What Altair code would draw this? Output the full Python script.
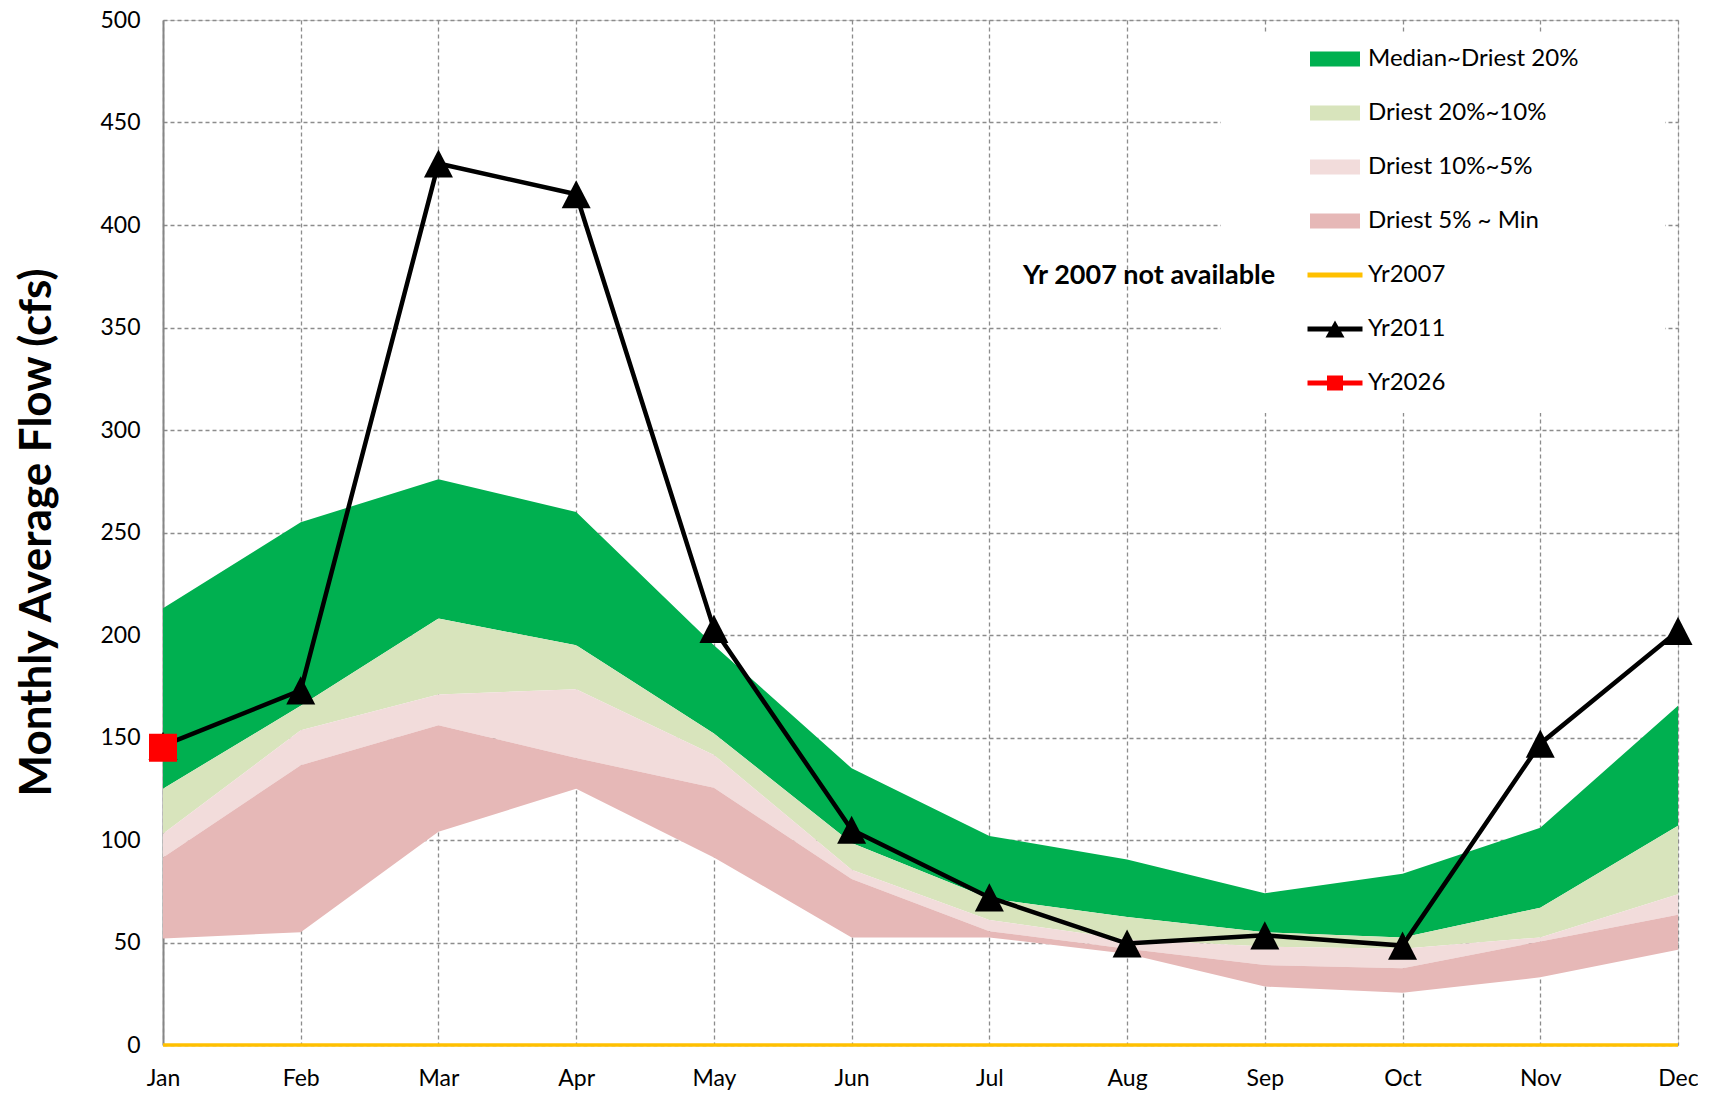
import altair as alt
import pandas as pd

# ---------------- data ----------------
months = ["Jan", "Feb", "Mar", "Apr", "May", "Jun", "Jul", "Aug", "Sep", "Oct", "Nov", "Dec"]

median_flow = [213, 255, 276, 260, 195, 135, 102, 90.5, 74, 83.5, 106, 165.5]
driest20 = [125, 165.5, 208, 195, 152, 98.5, 71.5, 62.5, 55, 52.5, 67, 107]
driest10 = [103, 153.5, 171, 173.5, 141.5, 85.5, 61, 51.5, 48, 47, 52.5, 73.5]
driest5 = [91.5, 136.5, 156, 140, 125.5, 81, 55.5, 47, 39, 37.5, 50.5, 63.5]
min_flow = [52, 55, 104, 125, 91.5, 52.5, 52.5, 44.5, 28.5, 25.5, 33, 46.5]

yr2007 = [0, 0, 0, 0, 0, 0, 0, 0, 0, 0, 0, 0]
yr2011 = [146, 173, 430, 415, 203, 105, 72, 49.5, 53.5, 48.5, 147, 202]
yr2026_months = ["Jan"]
yr2026 = [145]

band_names = ["Median~Driest 20%", "Driest 20%~10%", "Driest 10%~5%", "Driest 5% ~ Min"]
band_colors = ["#00b050", "#d8e4bc", "#f2dcdb", "#e6b8b7"]
line_names = ["Yr2007", "Yr2011", "Yr2026"]
line_colors = ["#ffc000", "#000000", "#ff0000"]
series_names = band_names + line_names
series_colors = band_colors + line_colors
note_text = "Yr 2007 not available"
y_title = "Monthly Average Flow (cfs)"

# ---------------- tables ----------------
bounds = [median_flow, driest20, driest10, driest5, min_flow]
band_rows = []
for i, name in enumerate(band_names):
    for m, hi, lo in zip(months, bounds[i], bounds[i + 1]):
        band_rows.append({"month": m, "series": name, "hi": hi, "lo": lo})
bands = pd.DataFrame(band_rows)

line_rows = []
for m, v in zip(months, yr2007):
    line_rows.append({"month": m, "series": "Yr2007", "value": v})
for m, v in zip(months, yr2011):
    line_rows.append({"month": m, "series": "Yr2011", "value": v})
for m, v in zip(yr2026_months, yr2026):
    line_rows.append({"month": m, "series": "Yr2026", "value": v})
lines = pd.DataFrame(line_rows)

legend_df = pd.DataFrame({"series": series_names, "note": [note_text] * len(series_names)})

# ---------------- styling ----------------
FONT = "Lato"
EXT = " M13.1,0L13.1,0.01"  # stretches the white legend box to the right
EXT_LAST = " M13.1,1.1L13.1,1.11"  # and a little further down under the last entry
LINE = "M-1.1,-0.1H1.1V0.1H-1.1Z"
RECT = "M-1,-0.3H1V0.3H-1Z"
legend_paths = [
    RECT + EXT,
    RECT + EXT,
    RECT + EXT,
    RECT + EXT,
    LINE + EXT,
    LINE + " M-0.38,0.34L0,-0.34L0.38,0.34Z" + EXT,
    LINE + " M-0.32,-0.3H0.32V0.3H-0.32Z" + EXT + EXT_LAST,
]

x_enc = alt.X(
    "month:N",
    sort=months,
    scale=alt.Scale(domain=months, padding=0),
    axis=alt.Axis(
        title=None, domain=False, ticks=False, labelAngle=0, labelPadding=22,
        labelFont=FONT, labelFontSize=23, labelColor="black",
        grid=True, gridDash=[4, 3], gridColor="#8c8c8c", gridWidth=1.3,
    ),
)
y_scale = alt.Scale(domain=[0, 500], nice=False)
y_axis = alt.Axis(
    title=y_title, tickCount=10, ticks=False, tickSize=0, labelPadding=23,
    labelFont=FONT, labelFontSize=23, labelColor="black",
    domain=True, domainColor="#868686", domainWidth=2,
    grid=True, gridDash=[4, 3], gridColor="#8c8c8c", gridWidth=1.3,
    titleFont=FONT, titleFontSize=44, titleFontWeight="bold", titleColor="black",
    titleX=-126, titleY=512, titleBaseline="middle", titleAngle=270,
)

legend_main = alt.Legend(
    title=None, orient="none", legendX=1058, legendY=12,
    fillColor="white", padding=2,
    symbolSize=2500, symbolStrokeWidth=0, symbolOffset=87,
    labelOffset=8, labelFont=FONT, labelFontSize=24, labelColor="black",
    labelLimit=400, rowPadding=17,
)
legend_note = alt.Legend(
    title=None, orient="none", legendX=833, legendY=242, padding=0,
    symbolSize=0, symbolStrokeWidth=0, symbolOpacity=0, labelOffset=0,
    labelFont=FONT, labelFontSize=27, labelFontWeight="bold", labelColor="black",
    labelLimit=400, zindex=1,
)

# ---------------- layers ----------------
area_layer = alt.Chart(bands).mark_area(opacity=1).encode(
    x=x_enc,
    y=alt.Y("hi:Q", scale=y_scale, axis=y_axis),
    y2="lo:Q",
    fill=alt.Fill("series:N", scale=alt.Scale(domain=band_names, range=band_colors), legend=None),
    detail="series:N",
)

yellow_line = alt.Chart(lines).transform_filter(alt.datum.series == "Yr2007").mark_line(
    strokeWidth=3.5, color=line_colors[0]
).encode(x=x_enc, y=alt.Y("value:Q", scale=y_scale))

black_line = alt.Chart(lines).transform_filter(alt.datum.series == "Yr2011").mark_line(
    strokeWidth=4.5, color=line_colors[1]
).encode(x=x_enc, y=alt.Y("value:Q", scale=y_scale))

triangles = alt.Chart(lines).transform_filter(alt.datum.series == "Yr2011").mark_point(
    shape="M0,-0.97L1,0.97L-1,0.97Z", filled=True, size=841, opacity=1,
    color=line_colors[1], strokeWidth=0
).encode(x=x_enc, y=alt.Y("value:Q", scale=y_scale))

squares = alt.Chart(lines).transform_filter(alt.datum.series == "Yr2026").mark_point(
    shape="square", filled=True, size=784, opacity=1, color=line_colors[2], strokeWidth=0
).encode(x=x_enc, y=alt.Y("value:Q", scale=y_scale))

legend_layer = alt.Chart(legend_df).transform_filter("false").mark_point(
    filled=True, opacity=1
).encode(
    color=alt.Color("series:N", scale=alt.Scale(domain=series_names, range=series_colors), legend=legend_main),
    shape=alt.Shape("series:N", scale=alt.Scale(domain=series_names, range=legend_paths), legend=legend_main),
    opacity=alt.Opacity("note:N", scale=alt.Scale(domain=[note_text], range=[1, 1]), legend=legend_note),
)

chart = alt.layer(
    area_layer, yellow_line, black_line, triangles, squares, legend_layer
).properties(
    width=1515, height=1025,
    autosize=alt.AutoSizeParams(type="none"),
    padding={"left": 155, "top": 12, "right": 20, "bottom": 50},
).configure_view(stroke=None).configure(font=FONT)

chart.save("out.html", embed_options={"renderer": "svg", "actions": False})
